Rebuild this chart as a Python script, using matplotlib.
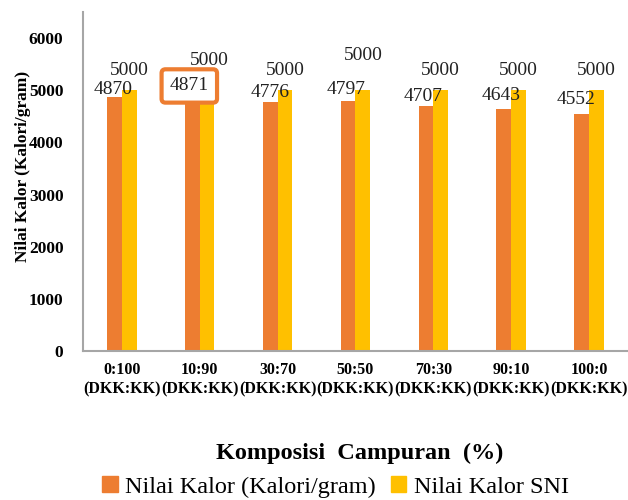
import matplotlib.pyplot as plt
from matplotlib.patches import Patch
import numpy as np

plt.rcParams['font.family'] = ['Liberation Serif', 'DejaVu Serif']

komposisi = ["0:100\n(DKK:KK)", "10:90\n(DKK:KK)", "30:70\n(DKK:KK)", "50:50\n(DKK:KK)",
             "70:30\n(DKK:KK)", "90:10\n(DKK:KK)", "100:0\n(DKK:KK)"]
nilai_kalor = [4870, 4871, 4776, 4797, 4707, 4643, 4552]
nilai_sni = [5000, 5000, 5000, 5000, 5000, 5000, 5000]

# label offsets in pixels from the top of each bar (placed by hand)
off_kalor = [(-1, 8), (-3, 11), (0, 9), (-1.5, 11.5), (-2.5, 9), (-2.5, 13.5), (-5.5, 14)]
off_sni = [(0, 20), (2.5, 30), (0, 20), (0, 35), (0, 20), (0, 20), (0, 20)]

c_orange = '#ED7D31'
c_yellow = '#FFC000'

fig = plt.figure(figsize=(6.28, 5.0), dpi=100)
ax = fig.add_axes([0.132, 0.298, 0.868, 0.678])

x = np.arange(len(komposisi))
w = 0.19
ax.bar(x - w / 2, nilai_kalor, w, color=c_orange)
ax.bar(x + w / 2, nilai_sni, w, color=c_yellow)

for i, v in enumerate(nilai_kalor):
    kw = {}
    if i == 1:
        kw['bbox'] = dict(boxstyle='round,pad=0.42,rounding_size=0.2', fc='white',
                          ec=c_orange, lw=3)
    ax.annotate(str(v), xy=(x[i] - w / 2, v), xytext=off_kalor[i], textcoords='offset pixels',
                ha='center', va='center', fontsize=14, color='#222222', zorder=5, **kw)
for i, v in enumerate(nilai_sni):
    ax.annotate(str(v), xy=(x[i] + w / 2, v), xytext=off_sni[i], textcoords='offset pixels',
                ha='center', va='center', fontsize=14, color='#222222', zorder=4)

ax.set_xlim(-0.5, len(komposisi) - 0.5)
ax.set_ylim(0, 6500)
ax.set_yticks([0, 1000, 2000, 3000, 4000, 5000, 6000])
ax.set_xticks(x)
ax.set_xticklabels(komposisi, fontsize=11.5, fontweight='bold', linespacing=1.3)
for t in ax.get_yticklabels():
    t.set_fontsize(12.5)
    t.set_fontweight('bold')
ax.tick_params(length=0)
ax.tick_params(axis='y', pad=14)
ax.tick_params(axis='x', pad=8)

for s in ['top', 'right']:
    ax.spines[s].set_visible(False)
for s in ['left', 'bottom']:
    ax.spines[s].set_color('#A6A6A6')
    ax.spines[s].set_linewidth(1.5)

ax.set_ylabel('Nilai Kalor (Kalori/gram)', fontsize=12.5, fontweight='bold')
ax.yaxis.set_label_coords(-0.095, 0.543)
fig.text(0.572, 0.094, 'Komposisi  Campuran  (%)', ha='center', va='center',
         fontsize=17.5, fontweight='bold')

handles = [Patch(color=c_orange), Patch(color=c_yellow)]
fig.legend(handles, ['Nilai Kalor (Kalori/gram)', 'Nilai Kalor SNI'], loc='center',
           bbox_to_anchor=(0.534, 0.026), ncol=2, frameon=False, fontsize=17.5,
           handlelength=0.65, handleheight=0.65, handletextpad=0.3, columnspacing=0.6,
           borderpad=0, borderaxespad=0)

plt.savefig('out.png', dpi=100)
